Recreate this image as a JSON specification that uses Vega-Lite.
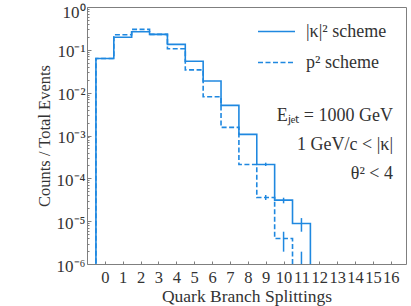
{
  "$schema": "https://vega.github.io/schema/vega-lite/v6.json",
  "width": 319,
  "height": 257,
  "autosize": {"type": "none"},
  "padding": {"left": 87, "top": 7, "right": 5, "bottom": 42},
  "background": "white",
  "config": {
    "view": {"stroke": "#7f7f7f", "strokeWidth": 1},
    "font": "Liberation Serif",
    "axis": {
      "domain": false,
      "grid": false,
      "labelColor": "#333333",
      "titleColor": "#333333",
      "tickColor": "#7f7f7f",
      "labelFont": "Liberation Serif",
      "titleFont": "Liberation Serif",
      "titleFontWeight": "normal"
    }
  },
  "title": {
    "text": ["Eⱼₑₜ = 1000 GeV", "1 GeV/c < |κ|", "θ² < 4"],
    "anchor": "end",
    "frame": "group",
    "orient": "top",
    "align": "right",
    "baseline": "top",
    "offset": 0,
    "dx": -13,
    "dy": 181,
    "fontSize": 18,
    "font": "Liberation Serif",
    "fontWeight": "normal",
    "color": "#333333",
    "lineHeight": 29
  },
  "datasets": {
    "hist": [
      {"bin": -1, "val": 1e-7, "scheme": "|κ|² scheme"},
      {"bin": 0, "val": 0.063, "scheme": "|κ|² scheme"},
      {"bin": 1, "val": 0.196, "scheme": "|κ|² scheme"},
      {"bin": 2, "val": 0.265, "scheme": "|κ|² scheme"},
      {"bin": 3, "val": 0.23, "scheme": "|κ|² scheme"},
      {"bin": 4, "val": 0.134, "scheme": "|κ|² scheme"},
      {"bin": 5, "val": 0.054, "scheme": "|κ|² scheme"},
      {"bin": 6, "val": 0.0187, "scheme": "|κ|² scheme"},
      {"bin": 7, "val": 0.00505, "scheme": "|κ|² scheme"},
      {"bin": 8, "val": 0.00106, "scheme": "|κ|² scheme"},
      {"bin": 9, "val": 0.00021, "scheme": "|κ|² scheme"},
      {"bin": 10, "val": 0.000031, "scheme": "|κ|² scheme"},
      {"bin": 11, "val": 0.0000088, "scheme": "|κ|² scheme"},
      {"bin": 12, "val": 1e-7, "scheme": "|κ|² scheme"},
      {"bin": -1, "val": 1e-7, "scheme": "p² scheme"},
      {"bin": 0, "val": 0.063, "scheme": "p² scheme"},
      {"bin": 1, "val": 0.225, "scheme": "p² scheme"},
      {"bin": 2, "val": 0.30, "scheme": "p² scheme"},
      {"bin": 3, "val": 0.23, "scheme": "p² scheme"},
      {"bin": 4, "val": 0.106, "scheme": "p² scheme"},
      {"bin": 5, "val": 0.034, "scheme": "p² scheme"},
      {"bin": 6, "val": 0.008, "scheme": "p² scheme"},
      {"bin": 7, "val": 0.00155, "scheme": "p² scheme"},
      {"bin": 8, "val": 0.00021, "scheme": "p² scheme"},
      {"bin": 9, "val": 0.0000358, "scheme": "p² scheme"},
      {"bin": 10, "val": 0.00000394, "scheme": "p² scheme"},
      {"bin": 11, "val": 1e-7, "scheme": "p² scheme"},
      {"bin": 12, "val": 1e-7, "scheme": "p² scheme"}
    ],
    "errs": [
      {"bin": 9, "val": 0.000194, "val_hi": 0.000232, "scheme": "|κ|² scheme"},
      {"bin": 10, "val": 0.0000261, "val_hi": 0.0000353, "scheme": "|κ|² scheme"},
      {"bin": 11, "val": 0.00000567, "val_hi": 0.0000118, "scheme": "|κ|² scheme"},
      {"bin": 9, "val": 0.0000312, "val_hi": 0.0000408, "scheme": "p² scheme"},
      {"bin": 10, "val": 0.00000194, "val_hi": 0.00000567, "scheme": "p² scheme"},
      {"bin": 11, "val": 1e-7, "val_hi": 0.00000194, "scheme": "p² scheme"}
    ]
  },
  "encoding": {
    "x": {
      "field": "bin",
      "type": "quantitative",
      "scale": {"domain": [-1, 16.85], "nice": false, "zero": false},
      "axis": {
        "title": "Quark Branch Splittings",
        "titleFontSize": 17.5,
        "titlePadding": 2,
        "values": [0, 1, 2, 3, 4, 5, 6, 7, 8, 9, 10, 11, 12, 13, 14, 15, 16],
        "format": "d",
        "labelFontSize": 16.5,
        "labelPadding": 8,
        "labelOverlap": false,
        "labelFlush": false,
        "tickSize": -3
      }
    },
    "y": {
      "field": "val",
      "type": "quantitative",
      "scale": {"type": "log", "domain": [1e-6, 1], "nice": false},
      "axis": {
        "title": "Counts / Total Events",
        "titleFontSize": 16.5,
        "titlePadding": 4,
        "values": [1e-6, 2e-6, 3e-6, 4e-6, 5e-6, 6e-6, 7e-6, 8e-6, 9e-6, 1e-5, 2e-5, 3e-5, 4e-5, 5e-5, 6e-5, 7e-5, 8e-5, 9e-5, 1e-4, 2e-4, 3e-4, 4e-4, 5e-4, 6e-4, 7e-4, 8e-4, 9e-4, 1e-3, 2e-3, 3e-3, 4e-3, 5e-3, 6e-3, 7e-3, 8e-3, 9e-3, 1e-2, 2e-2, 3e-2, 4e-2, 5e-2, 6e-2, 7e-2, 8e-2, 9e-2, 0.1, 0.2, 0.3, 0.4, 0.5, 0.6, 0.7, 0.8, 0.9, 1],
        "labelExpr": "abs(log(datum.value)/LN10 - round(log(datum.value)/LN10)) < 0.001 ? '10' + ['⁰','⁻¹','⁻²','⁻³','⁻⁴','⁻⁵','⁻⁶'][round(-log(datum.value)/LN10)] : ''",
        "labelFontSize": 17,
        "labelPadding": 6,
        "labelOverlap": false,
        "labelFlush": false,
        "labelOffset": {"condition": {"test": "datum.value > 0.99", "value": 5}, "value": 2},
        "tickSize": {"condition": {"test": "abs(log(datum.value)/LN10 - round(log(datum.value)/LN10)) < 0.001", "value": -4}, "value": -2}
      }
    }
  },
  "layer": [
    {
      "data": {"name": "hist"},
      "mark": {"type": "line", "interpolate": "step", "clip": true, "strokeWidth": 1.6, "color": "#1f88e0"},
      "encoding": {
        "strokeDash": {
          "field": "scheme",
          "type": "nominal",
          "scale": {"domain": ["|κ|² scheme", "p² scheme"], "range": [[1, 0], [5, 2.5]]},
          "legend": {
            "orient": "none",
            "legendX": 170,
            "legendY": 5,
            "title": null,
            "symbolType": "stroke",
            "symbolSize": 1369,
            "symbolStrokeWidth": 1.6,
            "symbolStrokeColor": "#1f88e0",
            "labelFontSize": 18,
            "labelFont": "Liberation Serif",
            "labelColor": "#333333",
            "labelOffset": 10,
            "rowPadding": 2
          }
        }
      }
    },
    {
      "data": {"name": "errs"},
      "mark": {"type": "rule", "clip": true, "strokeWidth": 1.5, "color": "#1f88e0"},
      "encoding": {
        "y2": {"field": "val_hi"}
      }
    }
  ]
}
